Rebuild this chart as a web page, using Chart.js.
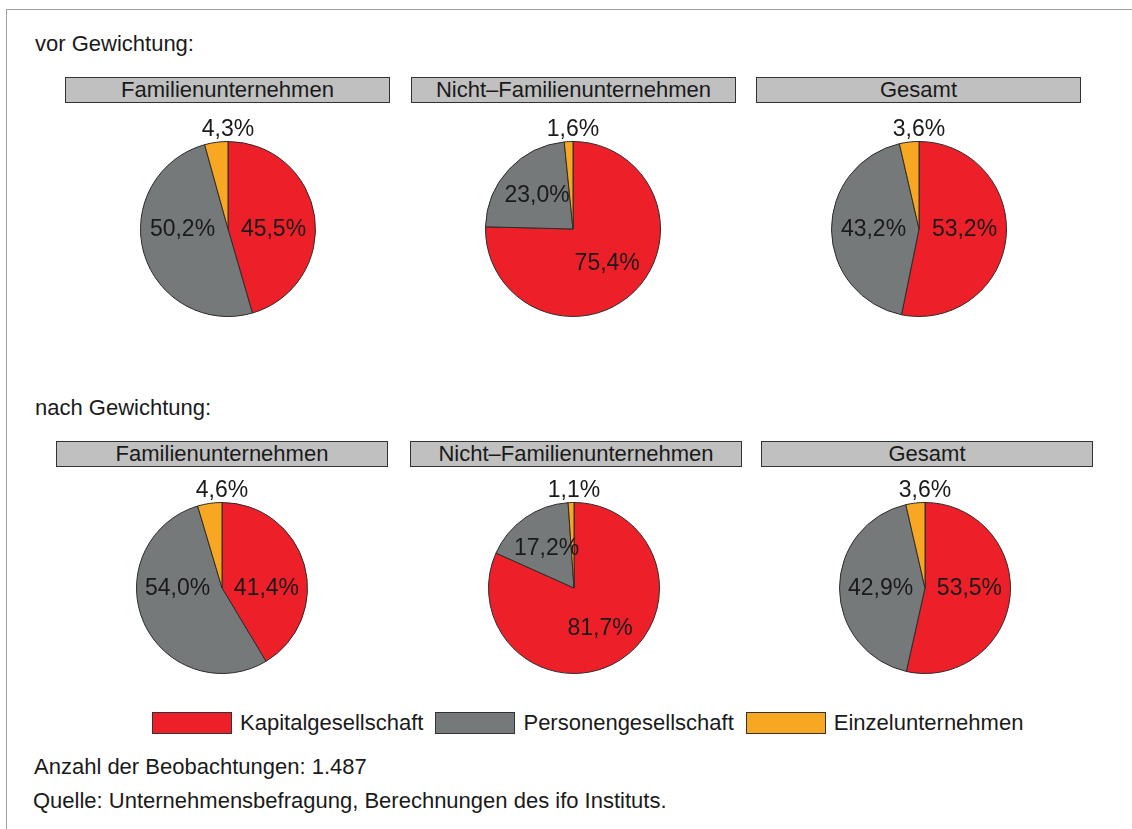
<!DOCTYPE html>
<html>
<head>
<meta charset="utf-8">
<script src="https://cdn.jsdelivr.net/npm/chart.js@4.4.0/dist/chart.umd.min.js"></script>
<style>
  body { margin: 0; background: #fff; width: 1132px; height: 829px; overflow: hidden; position: relative; font-family: "Liberation Sans", Arial, sans-serif; color: #1a1a1a; }
  .frame { position: absolute; left: 6px; top: 9px; width: 1200px; height: 900px; border: 1.5px solid #a0a0a0; }
  .txt { position: absolute; font-size: 22px; line-height: 26px; white-space: nowrap; }
  .head { position: absolute; height: 24px; background: #c0c0c0; border: 1px solid #333; font-size: 22px; line-height: 24px; text-align: center; white-space: nowrap; }
  canvas { position: absolute; }
  .legend { position: absolute; left: 152px; top: 710px; display: flex; align-items: center; font-size: 22px; }
  .legend .box { width: 78px; height: 20px; border: 1px solid #333; margin-right: 8px; }
  .legend .lab { margin-right: 12px; white-space: nowrap; }
</style>
</head>
<body>
<div class="frame"></div>
<div class="txt" style="left:35px; top:31px;">vor Gewichtung:</div>
<div class="txt" style="left:35px; top:395px;">nach Gewichtung:</div>
<div class="txt" style="left:34px; top:754px;">Anzahl der Beobachtungen: 1.487</div>
<div class="txt" style="left:33px; top:788px;">Quelle: Unternehmensbefragung, Berechnungen des ifo Instituts.</div>
<div class="legend" id="legend"></div>

<script>
// Legal forms (slices) and company groups (panels)
const categories = ['Kapitalgesellschaft', 'Personengesellschaft', 'Einzelunternehmen']
const groups = ['Familienunternehmen', 'Nicht–Familienunternehmen', 'Gesamt']
const colors = ['#ED2029', '#76797A', '#F8A722']

// Shares in percent, before weighting
const vorFamilien = [45.5, 50.2, 4.3]
const vorNichtFamilien = [75.4, 23.0, 1.6]
const vorGesamt = [53.2, 43.2, 3.6]

// Shares in percent, after weighting
const nachFamilien = [41.4, 54.0, 4.6]
const nachNichtFamilien = [81.7, 17.2, 1.1]
const nachGesamt = [53.5, 42.9, 3.6]

// Layout of the two rows
const rows = [
  { values: [vorFamilien, vorNichtFamilien, vorGesamt], boxLeft: [65, 411, 756], boxWidth: 325, boxTop: 77, cx: [228, 573, 919], cy: 229, r: 88 },
  { values: [nachFamilien, nachNichtFamilien, nachGesamt], boxLeft: [56, 410, 761], boxWidth: 332, boxTop: 441, cx: [222, 574, 925], cy: 588, r: 86 }
]

let fmt = v => v.toFixed(1).replace('.', ',') + '%'

// Draws the percentages on (or above) each slice
const sliceLabels = {
  id: 'sliceLabels',
  afterDatasetsDraw(chart) {
    let ctx = chart.ctx
    let values = chart.data.datasets[0].data
    ctx.save()
    ctx.font = '23px "Liberation Sans", Arial, sans-serif'
    ctx.fillStyle = '#1a1a1a'
    ctx.textAlign = 'center'
    ctx.textBaseline = 'middle'
    chart.getDatasetMeta(0).data.forEach((arc, i) => {
      let p = arc.getProps(['x', 'y', 'startAngle', 'endAngle', 'outerRadius'], true)
      if (values[i] < 5) {
        // small slices get their label above the pie
        ctx.fillText(fmt(values[i]), p.x, p.y - p.outerRadius - 12)
        return
      }
      let mid = (p.startAngle + p.endAngle) / 2
      let dx = Math.cos(mid)
      let dy = Math.sin(mid)
      // labels close to the horizontal sit level with the centre (best fit)
      if (Math.abs(dy) < 0.5) {
        ctx.fillText(fmt(values[i]), p.x + Math.sign(dx) * p.outerRadius * 0.52, p.y + 1)
      } else {
        let rr = p.outerRadius * 0.56
        ctx.fillText(fmt(values[i]), p.x + dx * rr, p.y + dy * rr)
      }
    })
    ctx.restore()
  }
}

rows.forEach(row => {
  row.values.forEach((vals, i) => {
    // Header box
    let head = document.createElement('div')
    head.className = 'head'
    head.style.left = row.boxLeft[i] + 'px'
    head.style.top = row.boxTop + 'px'
    head.style.width = (row.boxWidth - 2) + 'px'
    head.textContent = groups[i]
    document.body.appendChild(head)

    // Pie canvas
    let pad = 34
    let size = 2 * (row.r + pad)
    let canvas = document.createElement('canvas')
    canvas.width = size
    canvas.height = size
    canvas.style.left = (row.cx[i] - row.r - pad) + 'px'
    canvas.style.top = (row.cy - row.r - pad) + 'px'
    document.body.appendChild(canvas)

    new Chart(canvas, {
      type: 'pie',
      data: {
        labels: categories,
        datasets: [{
          data: vals,
          backgroundColor: colors,
          borderColor: '#2b2b2b',
          borderWidth: 1
        }]
      },
      options: {
        responsive: false,
        animation: false,
        layout: { padding: pad },
        plugins: {
          legend: { display: false },
          tooltip: { enabled: false }
        }
      },
      plugins: [sliceLabels]
    })
  })
})

// Legend at the bottom
let legend = document.getElementById('legend')
categories.forEach((cat, i) => {
  let box = document.createElement('div')
  box.className = 'box'
  box.style.background = colors[i]
  let lab = document.createElement('div')
  lab.className = 'lab'
  lab.textContent = cat
  legend.appendChild(box)
  legend.appendChild(lab)
})
</script>
</body>
</html>
